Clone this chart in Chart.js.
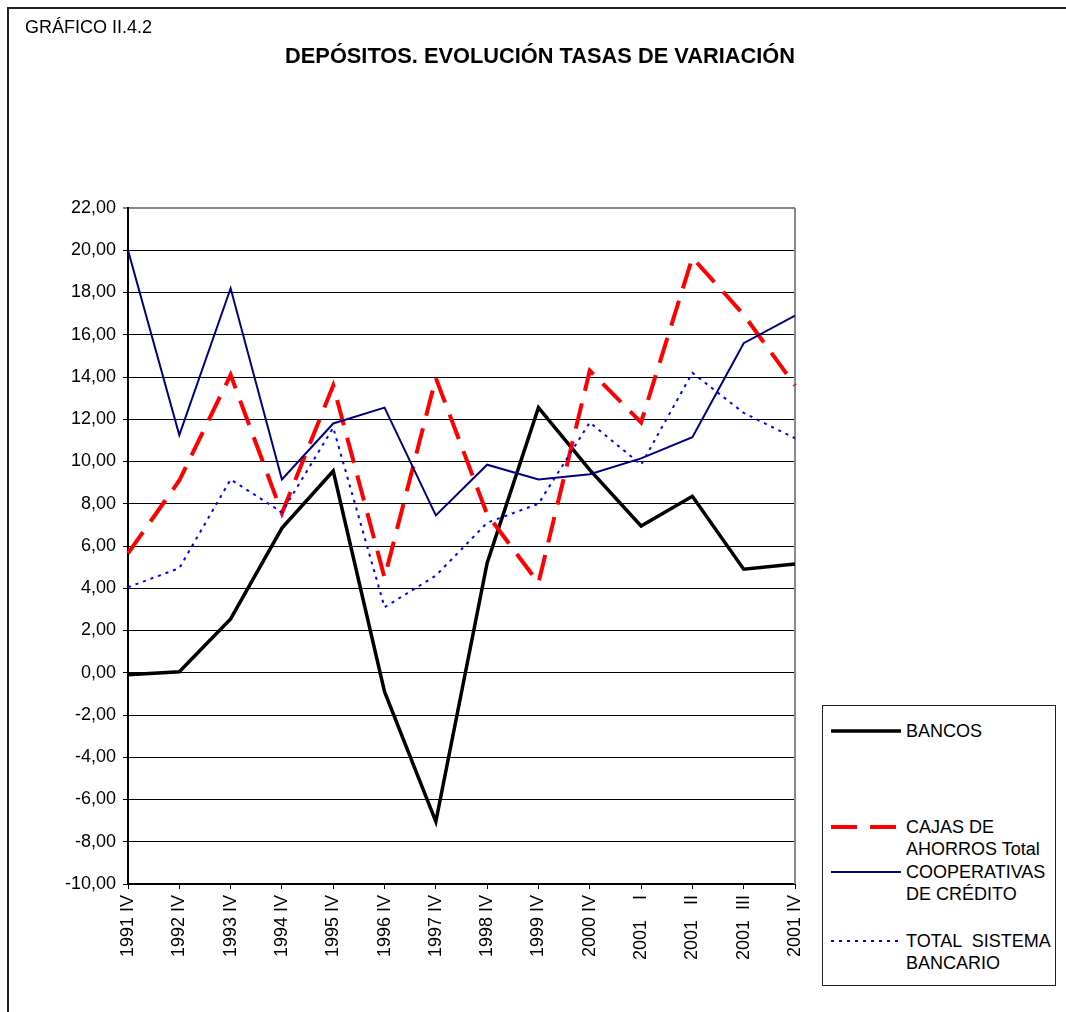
<!DOCTYPE html>
<html>
<head>
<meta charset="utf-8">
<script src="https://cdn.jsdelivr.net/npm/chart.js@4/dist/chart.umd.min.js"></script>
<style>
  html, body { margin: 0; padding: 0; background: #fff; }
  body { width: 1066px; height: 1012px; position: relative; overflow: hidden; font-family: "Liberation Sans", Arial, sans-serif; }
  #frame { position: absolute; left: 7px; top: 7px; right: -10px; bottom: -10px; border-left: 2px solid #222; border-top: 2px solid #222; }
  #chart { position: absolute; left: 0; top: 0; }
  .label { position: absolute; color: #000; white-space: nowrap; }
  #code { left: 25px; top: 17px; font-size: 18px; }
  #title { left: 0; width: 1080px; top: 43px; text-align: center; font-size: 21.8px; font-weight: bold; }
  #legend { position: absolute; left: 822px; top: 705px; width: 232px; height: 279px; border: 1px solid #222; background: #fff; }
  .item { position: absolute; left: 0; width: 232px; font-size: 18px; line-height: 22px; }
  .item svg { position: absolute; left: 8px; }
  .item span { position: absolute; left: 83px; top: 0; white-space: pre; }
</style>
</head>
<body>
<div id="frame"></div>
<canvas id="chart" width="1066" height="1012"></canvas>
<div class="label" id="code">GRÁFICO II.4.2</div>
<div class="label" id="title">DEPÓSITOS. EVOLUCIÓN TASAS DE VARIACIÓN</div>
<div id="legend"></div>
<script>
// periodos
const labels = ['1991 IV', '1992 IV', '1993 IV', '1994 IV', '1995 IV', '1996 IV', '1997 IV',
                '1998 IV', '1999 IV', '2000 IV', '2001    I', '2001   II', '2001  III', '2001 IV'];

// tasas de variación (%)
const bancos = [-0.1, 0.05, 2.55, 6.85, 9.55, -0.9, -7.05, 5.2, 12.55, 9.6, 6.95, 8.35, 4.9, 5.15];
const cajas = [5.65, 9.1, 14.1, 7.55, 13.6, 4.5, 13.95, 7.5, 4.25, 14.3, 11.85, 19.65, 16.95, 13.6];
const cooperativas = [20.0, 11.25, 18.2, 9.15, 11.8, 12.55, 7.45, 9.85, 9.15, 9.4, 10.15, 11.15, 15.6, 16.9];
const totalSistema = [4.05, 4.95, 9.15, 7.6, 11.6, 3.1, 4.6, 7.1, 8.0, 11.85, 9.85, 14.2, 12.3, 11.1];

const yTicks = [-10, -8, -6, -4, -2, 0, 2, 4, 6, 8, 10, 12, 14, 16, 18, 20, 22];

const series = [
  { name: ['BANCOS'], data: bancos, color: '#000000', width: 3.5, dash: [] },
  { name: ['CAJAS DE', 'AHORROS Total'], data: cajas, color: '#ff0000', width: 4, dash: [26, 13] },
  { name: ['COOPERATIVAS', 'DE CRÉDITO'], data: cooperativas, color: '#000080', width: 2, dash: [] },
  { name: ['TOTAL  SISTEMA', 'BANCARIO'], data: totalSistema, color: '#0000ff', width: 2, dash: [3, 5] }
];

Chart.defaults.font.family = '"Liberation Sans", Arial, sans-serif';
Chart.defaults.color = '#000';

const rightBorder = {
  id: 'rightBorder',
  beforeDatasetsDraw(chart) {
    const a = chart.chartArea, ctx = chart.ctx;
    ctx.save();
    ctx.strokeStyle = '#888';
    ctx.lineWidth = 2;
    ctx.beginPath();
    ctx.moveTo(a.right, a.top);
    ctx.lineTo(a.right, a.bottom);
    ctx.stroke();
    ctx.restore();
  }
};

new Chart(document.getElementById('chart'), {
  type: 'line',
  data: {
    labels: labels,
    datasets: series.map((s, i) => ({
      label: s.name.join(' '),
      data: s.data,
      borderColor: s.color,
      backgroundColor: s.color,
      borderWidth: s.width,
      borderDash: s.dash,
      pointRadius: 0,
      tension: 0,
      fill: false,
      order: 3 - i
    }))
  },
  options: {
    responsive: false,
    animation: false,
    devicePixelRatio: 1,
    layout: { padding: { left: 0, right: 271, top: 208, bottom: 0 } },
    plugins: { legend: { display: false }, tooltip: { enabled: false } },
    scales: {
      x: {
        offset: false,
        grid: { offset: false, drawOnChartArea: false, drawTicks: true, tickLength: 5, color: '#000' },
        border: { color: '#000', width: 2 },
        ticks: { minRotation: 90, maxRotation: 90, autoSkip: false, padding: 6, font: { size: 18 } },
        afterFit(scale) { scale.height = 128; }
      },
      y: {
        min: -10,
        max: 22,
        afterBuildTicks(scale) { scale.ticks = yTicks.map(v => ({ value: v })); },
        grid: {
          color: c => (c.tick && c.tick.value === 22) ? '#888' : '#000',
          lineWidth: c => (c.tick && c.tick.value === 22) ? 2 : 1,
          tickLength: 5
        },
        border: { color: '#000', width: 2 },
        ticks: {
          padding: 7,
          font: { size: 18 },
          callback: v => v.toFixed(2).replace('.', ',')
        },
        afterFit(scale) { scale.width = 128; }
      }
    }
  },
  plugins: [rightBorder]
});

// leyenda
const legendTops = [14, 110, 155, 224];
const legend = document.getElementById('legend');
series.forEach((s, i) => {
  const div = document.createElement('div');
  div.className = 'item';
  div.style.top = legendTops[i] + 'px';
  const dash = s.dash.length ? ' stroke-dasharray="' + s.dash.join(' ') + '"' : '';
  div.innerHTML = '<svg width="70" height="22"><line x1="0" y1="11" x2="70" y2="11" stroke="' + s.color +
    '" stroke-width="' + s.width + '"' + dash + '/></svg><span>' + s.name.join('\n') + '</span>';
  legend.appendChild(div);
});
</script>
</body>
</html>
